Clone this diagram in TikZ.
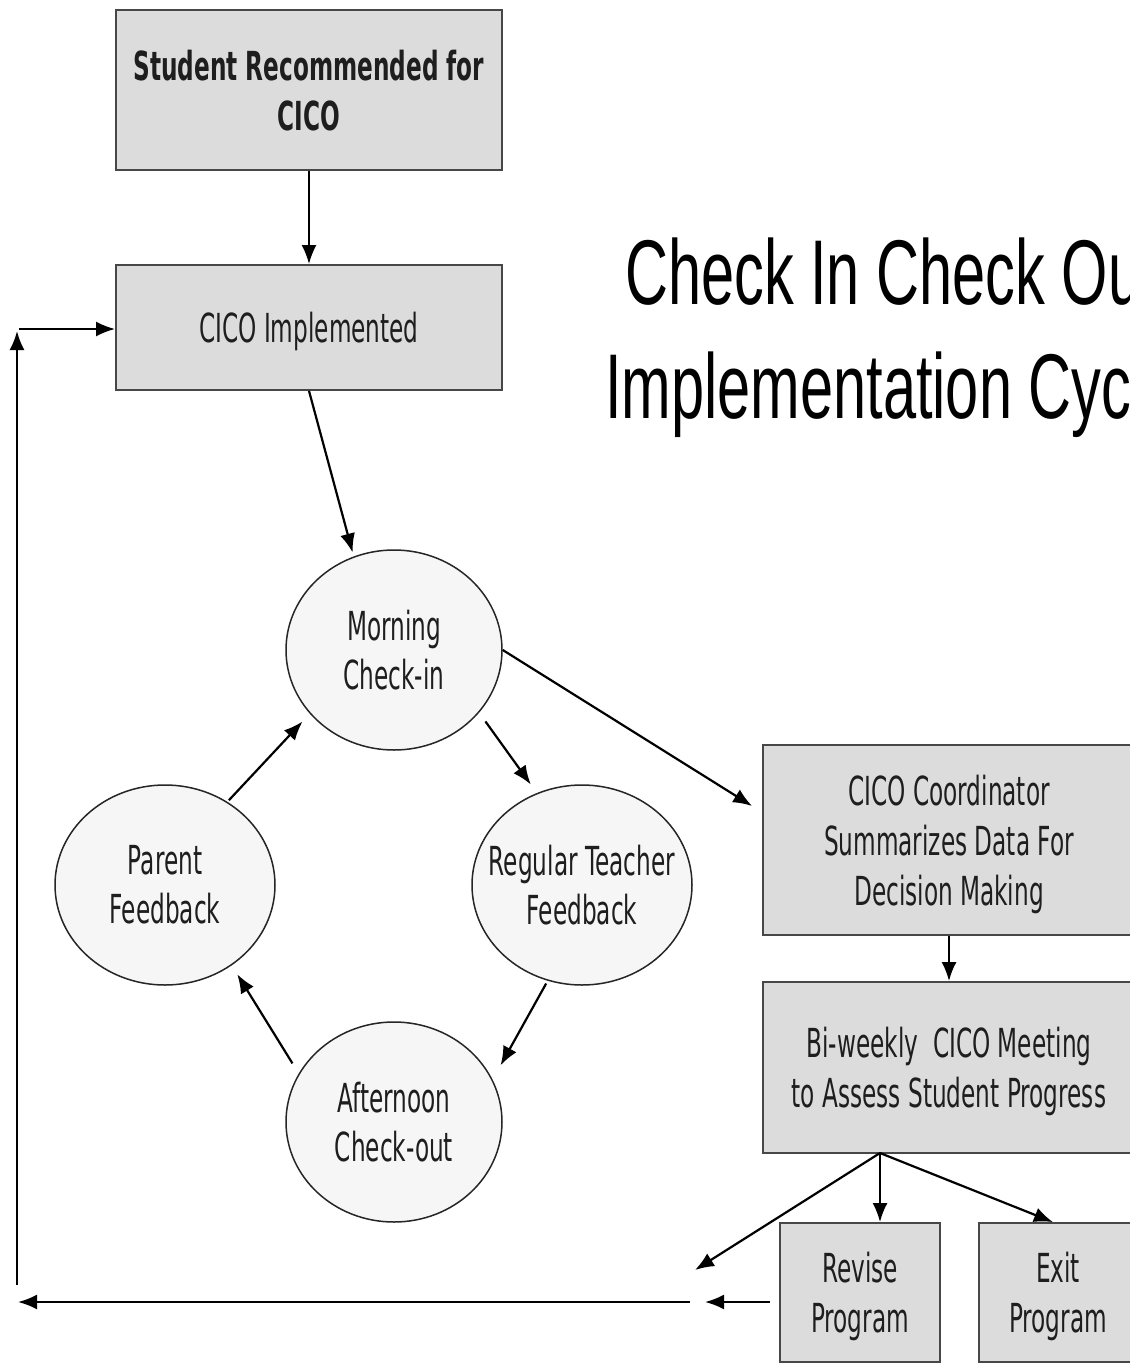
\documentclass[tikz,border=0pt]{standalone}
\usepackage{fontspec}
\usetikzlibrary{arrows.meta,shapes.geometric,calc}
\newfontfamily\vfont[FakeStretch=0.58]{DejaVu Sans}
\newfontfamily\tfont[FakeStretch=0.647]{Liberation Sans}
\definecolor{boxgray}{HTML}{DCDCDC}
\definecolor{ellfill}{HTML}{F6F6F6}
\definecolor{txt}{HTML}{1E1E1E}
\begin{document}
\begin{tikzpicture}[x=1pt,y=-1pt,
  box/.style={draw=black!72, line width=1.8pt, fill=boxgray, inner sep=0pt, align=center,
    font=\vfont\fontsize{40}{50}\selectfont, text=txt, text depth=0pt},
  ell/.style={ellipse, draw=black!85, line width=1.5pt, fill=ellfill, inner sep=-30pt, align=center,
    font=\vfont\fontsize{40}{49}\selectfont, text=txt, minimum width=216pt, minimum height=200pt},
  arr/.style={-{Latex[length=19pt,width=15pt]}, line width=2.2pt},
  title/.style={font=\tfont\fontsize{92}{112}\selectfont, anchor=base west, inner sep=0pt}
]
\useasboundingbox (0,0) rectangle (1130,1366);
\clip (0,0) rectangle (1130,1366);
\fill[white] (0,0) rectangle (1130,1366);

% title
\node[title] (t1) at (625,304) {Check In Check Out};
\node[title] (t2) at (605,418) {Implementation Cycle};

% boxes
\node[box, minimum width=386pt, minimum height=160pt] (b1) at (309,90) {\bfseries Student Recommended for\\\bfseries CICO};
\node[box, minimum width=386pt, minimum height=125pt] (b2) at (309,327.5) {CICO Implemented};
\node[box, minimum width=372pt, minimum height=190pt] (c) at (949,840) {CICO Coordinator\\Summarizes Data For\\Decision Making};
\node[box, minimum width=372pt, minimum height=171pt] (bw) at (949,1067.5) {Bi-weekly\ \ CICO Meeting\\to Assess Student Progress};
\node[box, minimum width=160pt, minimum height=139pt] (rv) at (860,1292.5) {Revise\\Program};
\node[box, minimum width=158pt, minimum height=139pt] (ex) at (1058,1292.5) {Exit\\Program};

% ellipses
\node[ell] (m) at (394,650) {Morning\\Check-in};
\node[ell, minimum width=220pt] (pf) at (165,885) {Parent\\Feedback};
\node[ell, minimum width=220pt] (rt) at (582,885) {Regular Teacher\\Feedback};
\node[ell] (af) at (394,1122) {Afternoon\\Check-out};

% connectors
\draw[arr] (b1.south) -- (b2.north);
\draw[arr] (b2.south) -- ($(m)!1.04!(m.113)$);
\draw[arr] ($(m)!1.1!(m.-38)$) -- ($(rt)!1.1!(rt.117)$);
\draw[arr] ($(rt)!1.03!(rt.-110)$) -- ($(af)!1.13!(af.28)$);
\draw[arr] ($(af)!1.1!(af.150)$) -- ($(pf)!1.1!(pf.-51)$);
\draw[arr] ($(pf)!1.02!(pf.53)$) -- ($(m)!1.1!(m.-142)$);
\draw[arr] (m.east) -- ($(c.west)+(-10,-34)$);
\draw[arr] (c.south) -- (bw.north);

\coordinate (bwp) at (880,1153);
\draw[arr] (bwp) -- (bwp |- rv.north);
\draw[arr] (bwp) -- ($(ex.north)+(-5,0)$);
\coordinate (ret) at (695,1270);
\draw[arr] (bwp) -- (ret);

\coordinate (r1) at (770,1302);
\coordinate (r2) at (705,1302);
\draw[arr] (r1) -- (r2);
\coordinate (r3) at (690,1302);
\coordinate (r4) at (18,1302);
\draw[arr] (r3) -- (r4);
\coordinate (v1) at (17,1285);
\coordinate (v2) at (17,331);
\draw[arr] (v1) -- (v2);
\coordinate (h1) at (19,329);
\draw[arr] (h1) -- (h1 -| b2.west);
\end{tikzpicture}
\end{document}
